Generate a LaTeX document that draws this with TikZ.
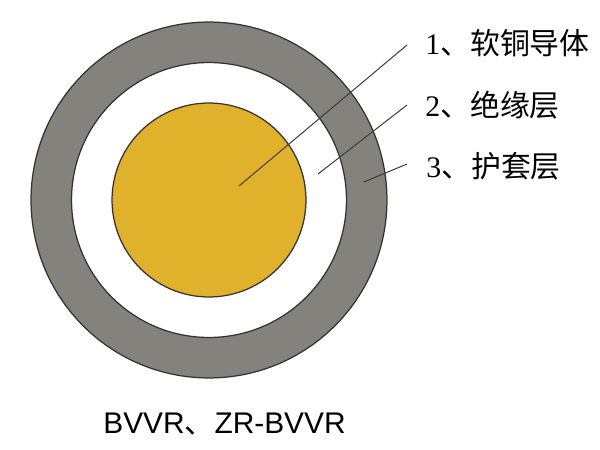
\documentclass[tikz,border=0pt]{standalone}
\usepackage{fontspec}
\setmainfont{Liberation Serif}
\setsansfont{Liberation Sans}
\newfontfamily\cjk{Noto Sans CJK SC}
\usetikzlibrary{positioning}
\definecolor{sheath_gray}{RGB}{131,130,124}
\definecolor{core_yellow}{RGB}{224,178,44}
\definecolor{line_gray}{RGB}{60,60,58}

\begin{document}
\begin{tikzpicture}
    [
        x=0.02cm, y=-0.02cm,
        ring_node/.style={circle, draw=black!80, line width=0.25mm, inner sep=0pt},
        part_label/.style={anchor=west, inner sep=0pt, font=\fontsize{17}{20}\selectfont},
        leader/.style={line width=0.2mm, color=line_gray},
    ]
        \useasboundingbox (0,0) rectangle (600,450);
        \node[ring_node, fill=sheath_gray, minimum size=7.12cm] (sheath) at (209,200) {};
        \node[ring_node, fill=white, minimum size=5.5cm] (insulation) at (209,200) {};
        \node[ring_node, fill=core_yellow, minimum size=3.88cm] (core) at (209,200) {};
        \node[part_label] (label1) at (425,43) {1{\cjk 、软铜导体}};
        \node[part_label] (label2) at (425,105) {2{\cjk 、绝缘层}};
        \node[part_label] (label3) at (426,166) {3{\cjk 、护套层}};
        \node[font=\fontsize{17}{20}\selectfont\sffamily, inner sep=0pt] (title) at (224.5,424) {BVVR{\cjk 、}ZR-BVVR};
        \coordinate (end1) at (407,45);
        \coordinate (end2) at (407,105);
        \coordinate (end3) at (407,164);
        \coordinate (in1) at (239,186);
        \coordinate (in2) at (318,174);
        \coordinate (in3) at (364,182);
        \draw[leader] (in1) -- (end1);
        \draw[leader] (in2) -- (end2);
        \draw[leader] (in3) -- (end3);
    \end{tikzpicture}
\end{document}
